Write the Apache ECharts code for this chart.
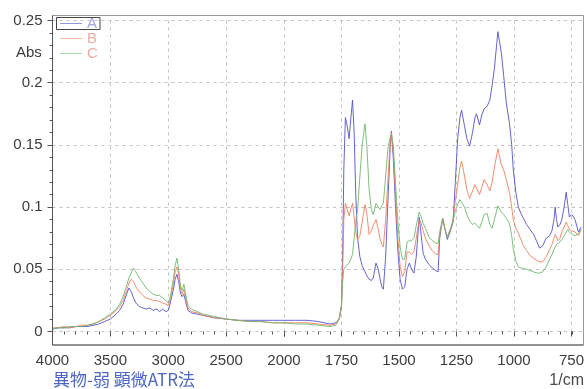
<!DOCTYPE html>
<html>
<head>
<meta charset="utf-8">
<script src="https://cdn.jsdelivr.net/npm/echarts@6/dist/echarts.min.js"></script>
<style>
  html, body { margin: 0; padding: 0; background: #ffffff; }
  #chart { width: 587px; height: 389px; }
</style>
</head>
<body>
<div id="chart"></div>
<script>
// IR absorbance spectra (ATR) of three samples, wavenumber in 1/cm
const wavenumbers = [
  4000, 3950, 3900, 3850, 3800, 3750, 3700, 3650, 3600, 3550, 3500, 3450, 3420, 3390, 3360, 3340,
  3320, 3300, 3280, 3250, 3220, 3190, 3160, 3130, 3100, 3075, 3050, 3020, 3000, 2985, 2960, 2940,
  2925, 2910, 2895, 2880, 2865, 2850, 2830, 2800, 2750, 2700, 2600, 2500, 2400, 2300, 2200, 2100,
  2000, 1950, 1900, 1850, 1800, 1775, 1760, 1750, 1745, 1740, 1733, 1725, 1717, 1710, 1702, 1695,
  1688, 1680, 1670, 1660, 1648, 1640, 1630, 1620, 1612, 1600, 1590, 1583, 1575, 1568, 1558, 1547,
  1538, 1533, 1525, 1515, 1505, 1495, 1485, 1475, 1465, 1455, 1445, 1435, 1425, 1412, 1405, 1395,
  1385, 1370, 1355, 1340, 1330, 1323, 1310, 1300, 1290, 1278, 1265, 1255, 1245, 1235, 1228, 1215,
  1205, 1193, 1180, 1170, 1163, 1150, 1140, 1130, 1117, 1105, 1095, 1085, 1070, 1062, 1055, 1045,
  1033, 1020, 1010, 1003, 992, 981, 970, 959, 945, 930, 915, 900, 889, 875, 860, 845,
  835, 826, 821, 815, 809, 800, 792, 782, 773, 766, 759, 750, 737, 722, 710
];

const absA = [
  0.002, 0.003, 0.003, 0.003, 0.004, 0.004, 0.004, 0.005, 0.006, 0.008, 0.010, 0.014, 0.017, 0.022, 0.030, 0.035,
  0.032, 0.027, 0.023, 0.020, 0.019, 0.018, 0.019, 0.017, 0.018, 0.016, 0.018, 0.016, 0.017, 0.022, 0.032, 0.042,
  0.046, 0.040, 0.031, 0.028, 0.030, 0.024, 0.017, 0.015, 0.014, 0.013, 0.011, 0.010, 0.009, 0.009, 0.009, 0.009,
  0.009, 0.009, 0.009, 0.008, 0.006, 0.007, 0.010, 0.020, 0.060, 0.130, 0.172, 0.165, 0.155, 0.170, 0.186, 0.160,
  0.110, 0.075, 0.060, 0.053, 0.048, 0.045, 0.042, 0.041, 0.043, 0.055, 0.050, 0.043, 0.036, 0.034, 0.060, 0.110,
  0.150, 0.161, 0.140, 0.100, 0.065, 0.042, 0.034, 0.036, 0.050, 0.055, 0.050, 0.047, 0.060, 0.092, 0.080, 0.063,
  0.058, 0.054, 0.051, 0.049, 0.048, 0.075, 0.091, 0.082, 0.074, 0.080, 0.088, 0.120, 0.155, 0.172, 0.178, 0.165,
  0.155, 0.149, 0.160, 0.172, 0.175, 0.166, 0.174, 0.179, 0.181, 0.186, 0.198, 0.212, 0.241, 0.232, 0.224, 0.206,
  0.183, 0.168, 0.150, 0.130, 0.112, 0.100, 0.095, 0.091, 0.086, 0.082, 0.078, 0.072, 0.067, 0.069, 0.075, 0.077,
  0.081, 0.090, 0.100, 0.090, 0.084, 0.086, 0.090, 0.100, 0.112, 0.102, 0.092, 0.094, 0.090, 0.080, 0.084
];

const absB = [
  0.003, 0.003, 0.004, 0.003, 0.004, 0.005, 0.005, 0.006, 0.008, 0.010, 0.013, 0.017, 0.020, 0.025, 0.033, 0.039,
  0.042, 0.040, 0.036, 0.032, 0.029, 0.027, 0.026, 0.025, 0.025, 0.024, 0.023, 0.022, 0.021, 0.025, 0.036, 0.048,
  0.052, 0.046, 0.034, 0.030, 0.034, 0.027, 0.019, 0.016, 0.015, 0.013, 0.011, 0.010, 0.009, 0.008, 0.008, 0.007,
  0.007, 0.007, 0.007, 0.006, 0.005, 0.006, 0.011, 0.022, 0.050, 0.090, 0.103, 0.098, 0.093, 0.098, 0.103, 0.092,
  0.080, 0.074, 0.077, 0.088, 0.102, 0.095, 0.078, 0.081, 0.085, 0.090, 0.082, 0.075, 0.070, 0.068, 0.090, 0.125,
  0.152, 0.160, 0.145, 0.110, 0.075, 0.052, 0.044, 0.048, 0.064, 0.064, 0.062, 0.064, 0.075, 0.090, 0.088, 0.081,
  0.075, 0.069, 0.065, 0.062, 0.062, 0.078, 0.090, 0.082, 0.076, 0.082, 0.090, 0.105, 0.118, 0.132, 0.137, 0.125,
  0.114, 0.107, 0.113, 0.118, 0.119, 0.110, 0.116, 0.122, 0.118, 0.113, 0.120, 0.132, 0.147, 0.140, 0.134, 0.130,
  0.122, 0.112, 0.100, 0.090, 0.083, 0.079, 0.074, 0.069, 0.065, 0.061, 0.059, 0.057, 0.056, 0.056, 0.060, 0.066,
  0.070, 0.075, 0.078, 0.076, 0.073, 0.075, 0.080, 0.084, 0.088, 0.085, 0.082, 0.081, 0.080, 0.077, 0.082
];

const absC = [
  0.002, 0.003, 0.003, 0.004, 0.004, 0.004, 0.005, 0.006, 0.008, 0.011, 0.014, 0.018, 0.022, 0.028, 0.037, 0.043,
  0.047, 0.051, 0.048, 0.043, 0.039, 0.035, 0.032, 0.030, 0.029, 0.029, 0.027, 0.025, 0.023, 0.027, 0.040, 0.053,
  0.059, 0.050, 0.037, 0.033, 0.038, 0.030, 0.021, 0.018, 0.016, 0.014, 0.012, 0.010, 0.009, 0.008, 0.008, 0.007,
  0.007, 0.006, 0.006, 0.005, 0.004, 0.005, 0.010, 0.020, 0.040, 0.050, 0.052, 0.053, 0.055, 0.058, 0.062, 0.075,
  0.088, 0.098, 0.125, 0.150, 0.167, 0.150, 0.114, 0.098, 0.094, 0.103, 0.100, 0.098, 0.101, 0.103, 0.125, 0.149,
  0.156, 0.158, 0.150, 0.120, 0.088, 0.068, 0.058, 0.058, 0.072, 0.073, 0.073, 0.075, 0.085, 0.096, 0.093, 0.087,
  0.083, 0.076, 0.073, 0.071, 0.071, 0.080, 0.091, 0.083, 0.076, 0.081, 0.088, 0.097, 0.102, 0.106, 0.107, 0.100,
  0.094, 0.089, 0.086, 0.087, 0.088, 0.083, 0.088, 0.094, 0.095, 0.086, 0.083, 0.090, 0.101, 0.098, 0.096, 0.094,
  0.091, 0.087, 0.077, 0.066, 0.057, 0.052, 0.051, 0.051, 0.050, 0.049, 0.048, 0.047, 0.047, 0.048, 0.052, 0.058,
  0.062, 0.066, 0.068, 0.070, 0.071, 0.072, 0.074, 0.077, 0.080, 0.082, 0.080, 0.078, 0.077, 0.079, 0.082
];

const seriesNames = ['A', 'B', 'C'];
const seriesColors = ['#5252cc', '#f08060', '#70b870'];
const legendLineColors = ['#8c96e2', '#f3bc9c', '#a6d6a6'];
const legendTextColors = ['#a3a6dc', '#e9aea4', '#e9aea4'];

// The wavenumber axis changes scale at 2000 1/cm: each piece gets its own grid
const axisRanges = [[2000, 4000, 500], [750, 2000, 250], [700, 750, 50]];
const bottomTitle = '異物-弱 顕微ATR法';
const unitLabel = '1/cm';

const FONT = '"Liberation Sans", Arial, sans-serif';
const plotTop = 20.5;
const plotHeight = 311;
const gridLefts = [52.5, 284, 572];
const gridWidths = [231.5, 288, 11.5];

function segment(values, lo, hi) {
  const pts = [];
  wavenumbers.forEach((w, i) => {
    if (w >= lo && w <= hi) pts.push([w, values[i]]);
  });
  return pts;
}

const allValues = [absA, absB, absC];
const grids = axisRanges.map((r, k) => ({
  left: gridLefts[k], top: plotTop, width: gridWidths[k], height: plotHeight
}));

const dashed = { show: true, lineStyle: { color: '#c2c2c2', type: [3, 4], width: 1 } };

const xAxes = axisRanges.map((r, k) => ({
  type: 'value', gridIndex: k, inverse: true,
  min: r[0], max: r[1], interval: r[2],
  offset: 13.5,
  axisLine: { show: false },
  axisTick: { show: true, length: k === 2 ? 3 : 5, lineStyle: { color: '#555555' } },
  minorTick: { show: k < 2, splitNumber: 5, length: 3, lineStyle: { color: '#555555' } },
  axisLabel: {
    show: k < 2, fontSize: 15, color: '#3c3c3c', fontFamily: FONT, margin: 8,
    showMaxLabel: k === 0,
    formatter: v => String(v)
  },
  splitLine: k < 2 ? Object.assign({}, dashed, { showMaxLine: false }) : { show: false }
}));

const yAxes = axisRanges.map((r, k) => ({
  type: 'value', gridIndex: k, min: 0, max: 0.25, interval: 0.05,
  axisLine: { show: false },
  axisTick: { show: k === 0, length: 5, lineStyle: { color: '#555555' } },
  minorTick: { show: k === 0, splitNumber: 5, length: 3, lineStyle: { color: '#555555' } },
  axisLabel: { show: k === 0, fontSize: 15, color: '#3c3c3c', fontFamily: FONT, margin: 10,
    formatter: v => String(v) },
  splitLine: dashed
}));

const series = [];
seriesNames.forEach((name, s) => {
  axisRanges.forEach((r, k) => {
    series.push({
      name: name, type: 'line', xAxisIndex: k, yAxisIndex: k,
      data: segment(allValues[s], r[0], r[1]),
      symbol: 'none', showSymbol: false, animation: false,
      lineStyle: { width: 0.9, color: seriesColors[s] },
      itemStyle: { color: seriesColors[s] }
    });
  });
});

const chart = echarts.init(document.getElementById('chart'), null, { renderer: 'canvas' });
chart.setOption({
  animation: false,
  backgroundColor: '#ffffff',
  grid: grids,
  xAxis: xAxes,
  yAxis: yAxes,
  series: series,
  legend: {
    orient: 'vertical', left: 60, top: 16, padding: 0,
    itemWidth: 22, itemHeight: 1, itemGap: 0,
    textStyle: { fontSize: 15, fontFamily: FONT, lineHeight: 15 },
    data: seriesNames.map((n, i) => ({
      name: n,
      icon: 'rect',
      itemStyle: { color: legendLineColors[i] },
      textStyle: { color: legendTextColors[i] }
    }))
  },
  title: {
    text: bottomTitle, left: 53, top: 371, padding: 0,
    textStyle: { fontSize: 17, fontWeight: 'normal', color: '#4d67c2',
      fontFamily: '"Noto Sans CJK JP", sans-serif' }
  },
  graphic: [
    { type: 'rect', shape: { x: 52.5, y: 15.5, width: 531, height: 329.5 },
      style: { fill: null, stroke: '#9a9a9a', lineWidth: 1 }, z: 50 },
    { type: 'line', shape: { x1: 52.5, y1: 15.5, x2: 52.5, y2: 345 },
      style: { stroke: '#555555', lineWidth: 1 }, z: 51 },
    { type: 'line', shape: { x1: 52.5, y1: 345, x2: 583.5, y2: 345 },
      style: { stroke: '#555555', lineWidth: 1 }, z: 51 },
    { type: 'rect', shape: { x: 56.5, y: 17.5, width: 43.5, height: 12 },
      style: { fill: null, stroke: '#444444', lineWidth: 1 }, z: 52 },
    { type: 'text', left: 16, top: 45,
      style: { text: 'Abs', font: '15px ' + FONT, fill: '#3c3c3c' } },
    { type: 'text', right: 3, top: 373,
      style: { text: unitLabel, font: '16px ' + FONT, fill: '#4a4a4a' } }
  ]
});
</script>
</body>
</html>
